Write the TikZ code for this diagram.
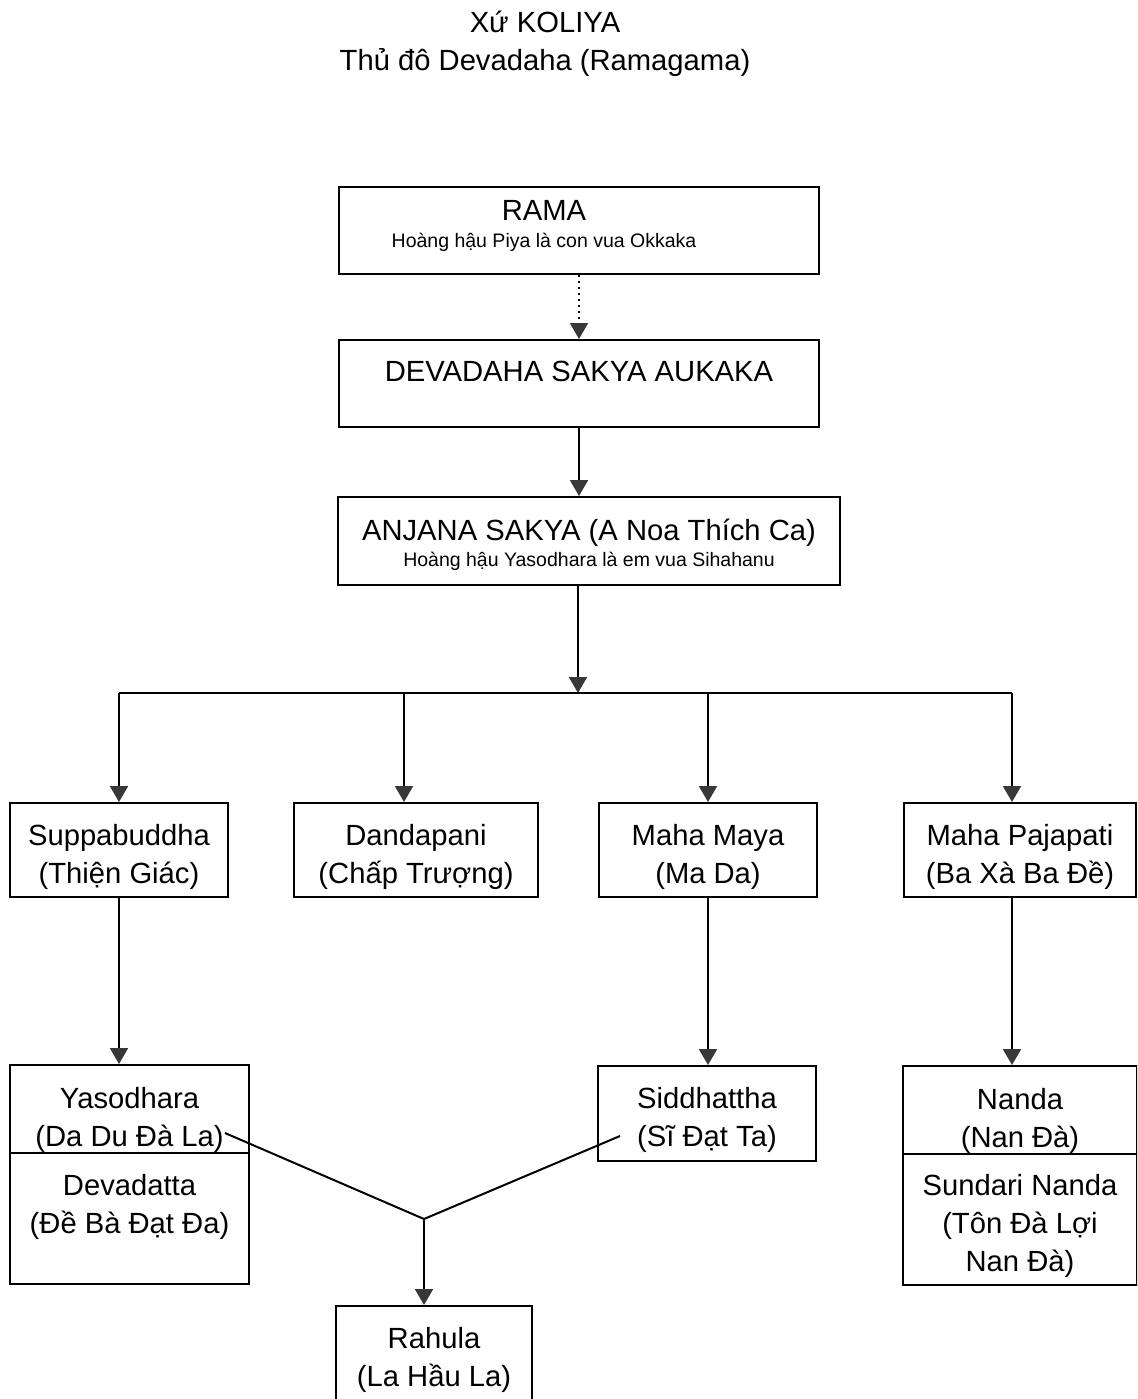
\documentclass[tikz,border=0pt]{standalone}
\usepackage{fontspec}
\setmainfont{Liberation Sans}
\usetikzlibrary{arrows.meta,positioning}
\newcommand\bigtxt{\fontsize{14.6pt}{19pt}\selectfont}
\newcommand\smalltxt{\fontsize{9.75pt}{12pt}\selectfont}
\tikzset{
       arr/.style = {-{Triangle[length=8pt,width=9pt,color=black!78]}, line width=1pt},  % filled heads
      base/.style = {draw, line width=1pt, align=center, font=\bigtxt, inner sep=0pt},
      king/.style = {base, minimum width=240pt, minimum height=43.5pt},
     child/.style = {base, minimum width=109pt, minimum height=47pt, text height=36.5pt},
    member/.style = {base, minimum height=44pt},
}
\begin{document}
\begin{tikzpicture}[x=0.5pt,y=-0.5pt]
\clip (0,0) rectangle (1137,1399);
% title
\node[align=center,font=\bigtxt] (title) at (545,44) {Xứ KOLIYA\\Thủ đô Devadaha (Ramagama)};
% the kings
\node[king] (rama) at (579,230.5) {};
\node[align=center,font=\bigtxt,inner sep=0pt] (ramatxt) at (544,226)
    {RAMA\\[-5.5pt]{\smalltxt Hoàng hậu Piya là con vua Okkaka}};
\node[king,text depth=12pt] (devadaha) at (579,383.5) {DEVADAHA SAKYA AUKAKA};
\node[king,minimum width=251pt,minimum height=44pt,text height=27.7pt] (anjana) at (589,541)
    {ANJANA SAKYA (A Noa Thích Ca)\\[-6pt]{\smalltxt Hoàng hậu Yasodhara là em vua Sihahanu}};
% the bus
\coordinate (hub) at (578,693);
\coordinate (b1) at (119,693);
\coordinate (b2) at (404,693);
\coordinate (b3) at (708,693);
\coordinate (b4) at (1012,693);
% children of Anjana
\node[child] (supp) at (119,850) {Suppabuddha\\(Thiện Giác)};
\node[child,minimum width=122pt] (dand) at (416,850) {Dandapani\\(Chấp Trượng)};
\node[child] (maya) at (708,850) {Maha Maya\\(Ma Da)};
\node[child,minimum width=116pt] (paja) at (1020,850) {Maha Pajapati\\(Ba Xà Ba Đề)};
% grandchildren
\node[member,minimum width=119.5pt,text height=40.7pt] (yaso) at (129.5,1109) {Yasodhara\\(Da Du Đà La)};
\node[member,minimum width=119.5pt,minimum height=65.5pt,text depth=15pt] (devad) at (129.5,1218.5) {Devadatta\\(Đề Bà Đạt Đa)};
\node[child,minimum height=47.5pt,text height=35.7pt] (sidd) at (707,1113.5) {Siddhattha\\(Sĩ Đạt Ta)};
\node[member,minimum width=117pt,text height=40.7pt] (nanda) at (1020,1110) {Nanda\\(Nan Đà)};
\node[member,minimum width=117pt,minimum height=65.5pt,text height=54.7pt] (sundari) at (1020,1219.5) {Sundari Nanda\\(Tôn Đà Lợi\\Nan Đà)};
\node[child,minimum width=98pt,minimum height=48pt,text height=35.7pt] (rahula) at (434,1354) {Rahula\\(La Hầu La)};
% connectors
\draw[arr,dotted] (rama.south) -- (devadaha.north);
\draw[arr] (devadaha.south) -- (devadaha.south |- anjana.north);
\draw[arr] (hub |- anjana.south) -- (hub);
\draw[line width=1pt] (b1) -- (b4);
\foreach \b/\n in {b1/supp,b2/dand,b3/maya,b4/paja}
  \draw[arr] (\b) -- (\b |- \n.north);
\draw[arr] (supp.south) -- (supp.south |- yaso.north);
\draw[arr] (b3 |- maya.south) -- (b3 |- sidd.north);
\draw[arr] (b4 |- paja.south) -- (b4 |- nanda.north);
% Rahula
\coordinate (ya) at (225,1133);
\coordinate (si) at (620,1136);
\coordinate (join) at (424,1219);
\draw[line width=1pt] (ya) -- (join) -- (si);
\draw[arr] (join) -- (join |- rahula.north);
\end{tikzpicture}
\end{document}
